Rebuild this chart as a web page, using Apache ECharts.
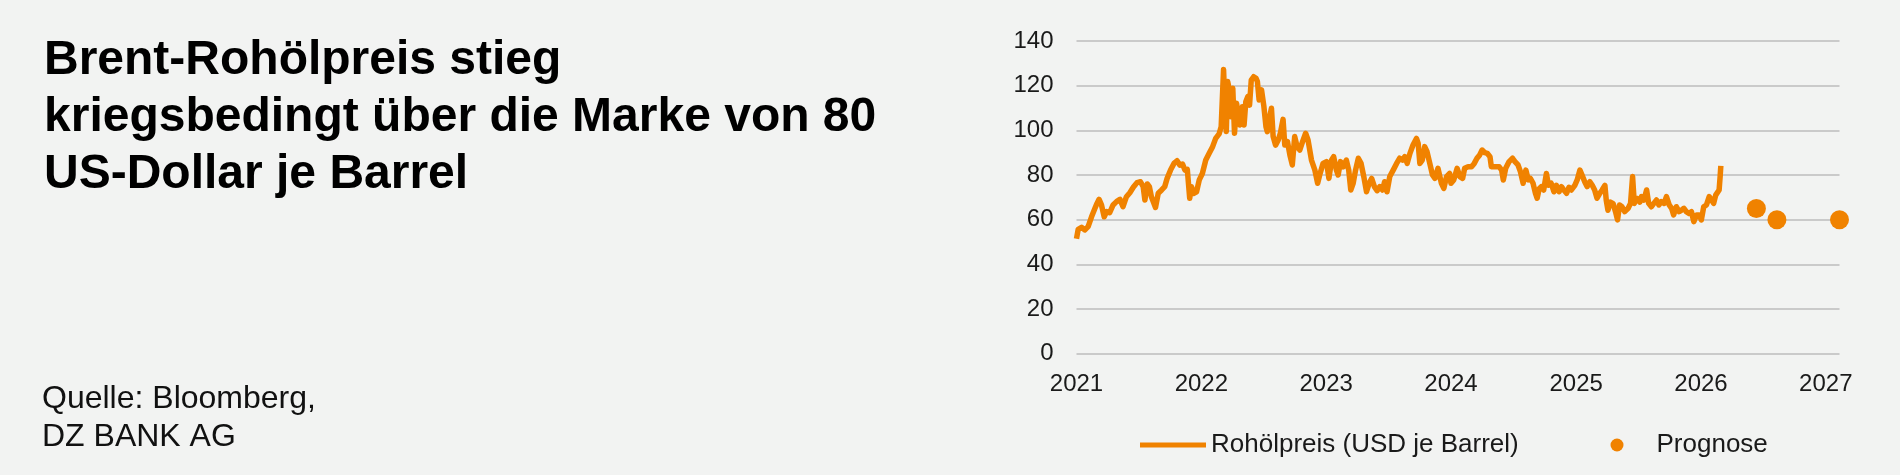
<!DOCTYPE html>
<html>
<head>
<meta charset="utf-8">
<script src="https://cdn.jsdelivr.net/npm/echarts@6/dist/echarts.min.js"></script>
<style>
html,body{margin:0;padding:0;background:#F2F3F2;}
#chart{width:1900px;height:475px;}
</style>
</head>
<body>
<div id="chart"></div>
<script>
const titleText = 'Brent-Rohölpreis stieg\nkriegsbedingt über die Marke von 80\nUS-Dollar je Barrel';
const sourceText = 'Quelle: Bloomberg,\nDZ BANK AG';
const seriesNames = ['Rohölpreis (USD je Barrel)', 'Prognose'];
const yearLabels = ['2021','2022','2023','2024','2025','2026','2027'];
const yTicks = [0, 20, 40, 60, 80, 100, 120, 140];

const priceDates = [
'2021-01-01','2021-01-06','2021-01-16','2021-01-25','2021-02-04','2021-02-14','2021-02-24','2021-03-02','2021-03-08','2021-03-15',
'2021-03-23','2021-03-30','2021-04-08','2021-04-18','2021-04-28','2021-05-08','2021-05-17','2021-05-27','2021-06-06','2021-06-16',
'2021-06-27','2021-07-07','2021-07-15','2021-07-20','2021-07-27','2021-08-02','2021-08-08','2021-08-13','2021-08-20','2021-08-28',
'2021-09-07','2021-09-16','2021-09-23','2021-10-03','2021-10-13','2021-10-22','2021-10-30','2021-11-07','2021-11-14','2021-11-21',
'2021-11-28','2021-12-03','2021-12-10','2021-12-18','2021-12-26','2022-01-04','2022-01-14','2022-01-24','2022-02-03','2022-02-12',
'2022-02-22','2022-02-28','2022-03-07','2022-03-10','2022-03-15','2022-03-19','2022-03-24','2022-03-29','2022-04-03','2022-04-08',
'2022-04-14','2022-04-19','2022-04-24','2022-05-01','2022-05-06','2022-05-11','2022-05-17','2022-05-22','2022-05-27','2022-06-03',
'2022-06-10','2022-06-14','2022-06-19','2022-06-26','2022-07-03','2022-07-09','2022-07-13','2022-07-18','2022-07-25','2022-07-30',
'2022-08-06','2022-08-14','2022-08-20','2022-08-28','2022-09-02','2022-09-10','2022-09-17','2022-09-24','2022-10-01','2022-10-08',
'2022-10-16','2022-10-24','2022-11-02','2022-11-09','2022-11-19','2022-11-29','2022-12-07','2022-12-13','2022-12-23','2023-01-02',
'2023-01-09','2023-01-17','2023-01-23','2023-01-31','2023-02-05','2023-02-12','2023-02-20','2023-03-01','2023-03-08','2023-03-14',
'2023-03-21','2023-03-28','2023-04-05','2023-04-13','2023-04-21','2023-04-29','2023-05-07','2023-05-14','2023-05-22','2023-05-30',
'2023-06-07','2023-06-15','2023-06-21','2023-06-28','2023-07-06','2023-07-16','2023-07-26','2023-08-04','2023-08-12','2023-08-19',
'2023-08-26','2023-09-03','2023-09-12','2023-09-22','2023-09-27','2023-10-02','2023-10-09','2023-10-16','2023-10-23','2023-10-31',
'2023-11-08','2023-11-15','2023-11-24','2023-12-04','2023-12-11','2023-12-19','2023-12-28','2024-01-01','2024-01-09','2024-01-19',
'2024-01-27','2024-02-04','2024-02-10','2024-02-20','2024-03-01','2024-03-09','2024-03-17','2024-03-25','2024-04-01','2024-04-09',
'2024-04-16','2024-04-24','2024-04-28','2024-05-05','2024-05-13','2024-05-21','2024-05-28','2024-06-02','2024-06-09','2024-06-19',
'2024-06-29','2024-07-06','2024-07-15','2024-07-22','2024-07-30','2024-08-07','2024-08-14','2024-08-20','2024-08-28','2024-09-04',
'2024-09-09','2024-09-15','2024-09-21','2024-09-28','2024-10-06','2024-10-12','2024-10-20','2024-10-28','2024-11-04','2024-11-12',
'2024-11-19','2024-11-26','2024-12-04','2024-12-11','2024-12-18','2024-12-28','2025-01-04','2025-01-12','2025-01-20','2025-01-26',
'2025-02-02','2025-02-10','2025-02-17','2025-02-24','2025-03-03','2025-03-11','2025-03-18','2025-03-26','2025-03-30','2025-04-04',
'2025-04-11','2025-04-19','2025-04-26','2025-05-02','2025-05-08','2025-05-15','2025-05-23','2025-06-02','2025-06-09','2025-06-15',
'2025-06-20','2025-06-27','2025-07-06','2025-07-11','2025-07-18','2025-07-26','2025-08-01','2025-08-09','2025-08-16','2025-08-24',
'2025-08-31','2025-09-07','2025-09-15','2025-09-22','2025-09-30','2025-10-07','2025-10-13','2025-10-21','2025-10-29','2025-11-05',
'2025-11-12','2025-11-19','2025-11-27','2025-12-04','2025-12-11','2025-12-19','2025-12-27','2026-01-02','2026-01-09','2026-01-17',
'2026-01-25','2026-02-01','2026-02-07','2026-02-13','2026-02-18','2026-02-23','2026-02-26','2026-02-28'
];
const priceValues = [
51.5,55.7,56.6,55.4,56.9,61.3,65.1,67.3,69.1,66.6,
61.3,63.6,63.1,66.6,68.1,69.1,65.8,70.3,72.1,74.5,
76.6,77.0,74.8,68.8,76.0,74.8,70.3,71.0,65.5,71.8,
73.3,74.8,78.5,82.2,85.2,86.4,84.4,84.9,82.2,82.5,
69.6,74.8,71.8,72.5,77.8,80.7,86.7,89.7,92.7,96.4,
98.4,101.6,127.2,115.1,99.5,121.9,118.1,106.1,118.8,98.7,
112.1,112.8,102.4,110.6,102.4,112.8,115.1,111.3,122.5,124.0,
123.3,121.8,113.6,118.1,110.6,101.6,99.4,104.6,109.9,97.2,
93.4,95.7,98.7,104.9,93.4,94.9,88.9,84.5,97.2,92.7,
91.2,94.9,98.7,95.7,86.7,82.2,76.3,80.0,85.2,86.0,
78.5,86.7,88.2,82.2,80.0,86.0,83.7,86.7,82.2,73.3,
76.3,82.2,87.5,85.2,79.3,72.5,76.3,78.5,74.8,73.0,
74.8,73.3,77.0,72.5,79.3,82.2,85.2,87.5,86.7,88.2,
85.2,89.7,93.4,96.4,94.2,85.2,86.7,92.7,90.4,85.2,
80.0,78.5,83.0,76.3,74.0,79.3,80.7,76.3,77.8,83.0,
79.3,78.5,83.0,83.7,83.7,85.2,87.5,89.0,91.2,90.0,
89.7,88.2,83.7,83.7,83.7,83.7,82.2,77.8,83.0,86.0,
87.5,86.0,84.5,81.5,76.3,82.2,77.8,78.5,76.3,71.8,
69.6,73.9,74.8,73.3,80.7,75.4,76.3,72.5,75.4,72.5,
74.8,73.3,71.8,74.5,73.3,75.4,77.8,82.2,79.3,77.0,
74.8,77.0,75.4,73.3,69.6,71.8,73.3,75.4,68.7,64.2,
67.9,67.2,63.6,59.9,66.6,65.8,63.6,65.1,67.3,79.3,
67.3,69.6,67.9,70.3,68.8,73.3,67.3,65.8,67.3,68.8,
66.6,68.1,67.3,70.3,66.6,65.1,62.1,65.8,63.6,64.3,
65.1,63.6,62.8,63.6,59.1,62.1,62.1,59.9,65.8,66.6,
70.3,68.8,67.3,71.0,71.8,73.3,79.3,84.1
];

const forecastDates = ['2026-06-12', '2026-08-11', '2027-02-10'];
const forecastValues = [65, 60, 60];

const xMin = '2021-01-01';
const xMax = '2027-02-10';

const ORANGE = '#F08200';
const FONT = 'Liberation Sans, Arial, sans-serif';

function ts(s) {
  const p = s.split('-').map(Number);
  return Date.UTC(p[0], p[1] - 1, p[2]);
}
const yearTicks = yearLabels.map(y => Date.UTC(+y, 0, 1));

const chart = echarts.init(document.getElementById('chart'), null, {renderer: 'canvas'});

chart.setOption({
  backgroundColor: '#F2F3F2',
  animation: false,
  textStyle: {fontFamily: FONT},
  title: [
    {
      text: titleText, left: 39, top: 27,
      textStyle: {fontSize: 48, fontWeight: 'bold', lineHeight: 57, color: '#000', fontFamily: FONT}
    },
    {
      text: sourceText, left: 37, top: 375,
      textStyle: {fontSize: 32, fontWeight: 'normal', lineHeight: 38, color: '#111', fontFamily: FONT}
    }
  ],
  grid: {left: 1076.5, right: 60.5, top: 41, bottom: 121.3, containLabel: false},
  xAxis: {
    type: 'value', min: ts(xMin), max: ts(xMax),
    axisLine: {show: false}, axisTick: {show: false}, splitLine: {show: false},
    axisLabel: {
      customValues: yearTicks,
      formatter: v => {
        const i = yearTicks.indexOf(v);
        return i >= 0 ? yearLabels[i] : '';
      },
      fontSize: 24, color: '#1a1a1a', margin: 19, fontFamily: FONT,
      showMinLabel: true, showMaxLabel: true, hideOverlap: false
    }
  },
  yAxis: {
    type: 'value', min: yTicks[0], max: yTicks[yTicks.length - 1], interval: 20,
    axisLine: {show: false}, axisTick: {show: false},
    splitLine: {lineStyle: {color: '#BDBDBD', width: 1.5}},
    axisLabel: {fontSize: 24, color: '#1a1a1a', margin: 23, fontFamily: FONT}
  },
  legend: [
    {
      data: [seriesNames[0]], left: 1135, top: 427, icon: 'rect',
      itemWidth: 66, itemHeight: 5, itemGap: 0,
      textStyle: {fontSize: 26, color: '#1a1a1a', fontFamily: FONT}
    },
    {
      data: [seriesNames[1]], left: 1605.5, top: 427, icon: 'circle',
      itemWidth: 13, itemHeight: 13, itemGap: 0,
      textStyle: {fontSize: 26, color: '#1a1a1a', fontFamily: FONT, padding: [0, 0, 0, 28]}
    }
  ],
  series: [
    {
      name: seriesNames[0], type: 'line', showSymbol: false, symbol: 'none',
      data: priceDates.map((d, i) => [ts(d), priceValues[i]]),
      lineStyle: {color: ORANGE, width: 5.5, join: 'round'},
      itemStyle: {color: ORANGE}
    },
    {
      name: seriesNames[1], type: 'scatter', symbolSize: 19,
      data: forecastDates.map((d, i) => [ts(d), forecastValues[i]]),
      itemStyle: {color: ORANGE, opacity: 1}
    }
  ]
});
</script>
</body>
</html>
